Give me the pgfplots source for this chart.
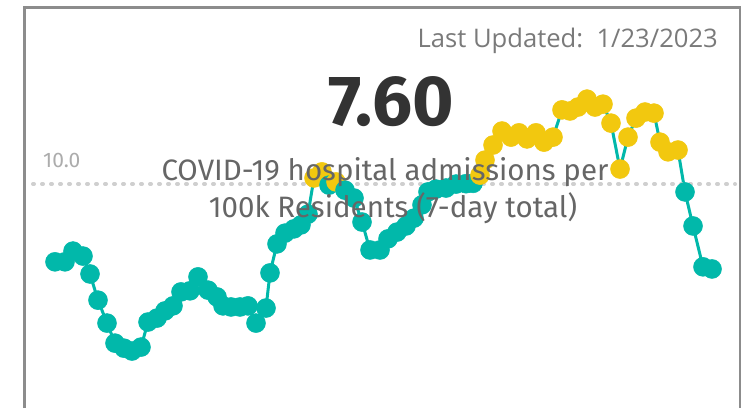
\documentclass[border=0pt]{standalone}
\usepackage{pgfplots}
\pgfplotsset{compat=1.18}
\usepackage{pgfplotstable}
\usepackage{fontspec}
\setmainfont{Open Sans}
\newfontfamily\dinfont{Fira Sans}
\definecolor{tealc}{HTML}{01B8AA}
\definecolor{yel}{HTML}{F2C80F}
\definecolor{framec}{HTML}{8C8C8C}
\definecolor{txtgray}{HTML}{7A7A7A}
\definecolor{lblgray}{HTML}{666666}
\definecolor{dotgray}{HTML}{CFCFCF}
\definecolor{bigtxt}{HTML}{333333}
\pgfplotstableread{
x y c
55 7.80 a
65 7.80 a
73 8.10 a
83 7.96 a
90 7.46 a
98 6.73 a
107 6.09 a
115 5.53 a
124 5.39 a
132 5.31 a
141 5.42 a
148 6.12 a
157 6.23 a
165 6.43 a
173 6.57 a
181 6.96 a
190 6.99 a
198 7.38 a
208 7.01 a
217 6.82 a
223 6.57 a
231 6.54 a
240 6.54 a
248 6.57 a
256 6.09 a
266 6.51 a
270 7.49 a
277 8.30 a
285 8.60 a
294 8.72 a
301 8.83 a
308 9.13 a
314 10.14 b
322 10.31 b
329 9.94 a
336 10.03 b
345 9.80 a
354 9.58 a
362 8.91 a
370 8.13 a
380 8.13 a
388 8.44 a
397 8.63 a
406 8.80 a
414 9.02 a
422 9.39 a
428 9.75 a
436 9.83 a
446 9.86 a
456 9.97 a
466 9.98 a
473 9.99 a
480 10.22 b
485 10.64 b
493 11.06 b
502 11.45 b
511 11.28 b
519 11.40 b
527 11.23 b
536 11.40 b
544 11.14 b
553 11.28 b
562 12.04 b
570 12.01 b
578 12.12 b
587 12.34 b
595 12.12 b
603 12.20 b
611 11.67 b
620 10.39 b
628 11.28 b
636 11.81 b
645 11.98 b
654 11.95 b
660 11.14 b
668 10.87 b
678 10.92 b
685 9.75 a
693 8.80 a
703 7.66 a
712 7.60 a
}\datatable
\begin{document}
\begin{tikzpicture}
\useasboundingbox (0pt,0pt) rectangle (749pt,408pt);
\fill[white] (0pt,0pt) rectangle (749pt,408pt);
\begin{axis}[at={(0pt,0pt)}, anchor=south west, scale only axis,
  width=749pt, height=408pt, xmin=0, xmax=749, ymin=3.720, ymax=15.107,
  hide axis, clip=false]
\addplot[color=tealc, line width=3pt, mark=*, mark size=9.5pt,
  scatter, scatter src=explicit symbolic,
  scatter/classes={
    a={mark=*, draw=tealc, fill=tealc, line width=0.5pt},
    b={mark=*, draw=yel, fill=yel, line width=0.5pt}}]
  table[x=x, y=y, meta=c]{\datatable};
\addplot[color=dotgray, line width=4pt, line cap=round,
  dash pattern=on 1pt off 8pt] coordinates {(33,9.97) (735,9.97)};
\end{axis}
\draw[line width=2.5pt, color=framec] (24.5pt,0pt) -- (24.5pt,400.5pt) -- (740pt,400.5pt) -- (740pt,0pt);
\node[anchor=base east, inner sep=0pt, text=txtgray] at (718pt,360pt)
  {\fontsize{25.6pt}{30pt}\selectfont Last Updated:\ \ 1/23/2023};
\node[anchor=base, inner sep=0pt, text=bigtxt] at (391pt,283pt)
  {\dinfont\bfseries\fontsize{71pt}{75pt}\selectfont 7.60};
\node[anchor=base, inner sep=0pt, text=lblgray] at (385pt,228pt)
  {\dinfont\fontsize{29.5pt}{33pt}\selectfont COVID-19 hospital admissions per};
\node[anchor=base, inner sep=0pt, text=lblgray] at (393pt,191pt)
  {\dinfont\fontsize{29.5pt}{33pt}\selectfont 100k Residents (7-day total)};
\node[anchor=base west, inner sep=0pt, text=gray!65] at (43pt,241pt)
  {\dinfont\fontsize{21pt}{24pt}\selectfont 10.0};
\end{tikzpicture}
\end{document}
